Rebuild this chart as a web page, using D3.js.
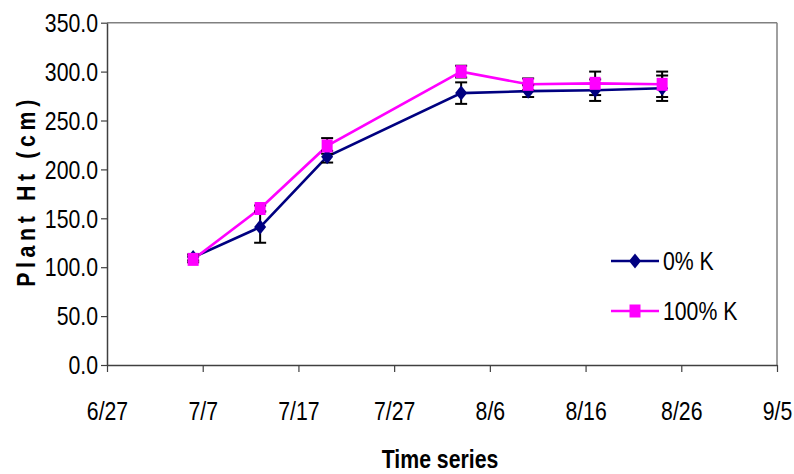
<!DOCTYPE html>
<html>
<head>
<meta charset="utf-8">
<script src="https://cdn.jsdelivr.net/npm/d3@7"></script>
<style>
  html, body { margin: 0; padding: 0; background: #fff; }
  svg { display: block; }
  text { font-family: "Liberation Sans", Arial, sans-serif; }
</style>
</head>
<body>
<svg id="chart" width="794" height="474"></svg>
<script>
// ---- data ----
const xTickLabels = ["6/27", "7/7", "7/17", "7/27", "8/6", "8/16", "8/26", "9/5"];
const yTickValues = [0, 50, 100, 150, 200, 250, 300, 350];
const sampleDates = ["7/6", "7/13", "7/20", "8/3", "8/10", "8/17", "8/24"];
const k0Values   = [110, 141, 213, 278, 280, 281, 283];
const k0Errors   = [3, 16, 6, 11, 6, 11, 13];
const k100Values = [108, 160, 224, 300, 287, 288, 287];
const k100Errors = [3, 3, 8, 6, 6, 12, 13];
const seriesNames = ["0% K", "100% K"];

const parseMD = s => { const [m, d] = s.split("/").map(Number); return new Date(2007, m - 1, d); };

const svg = d3.select("#chart");
const plotL = 107, plotR = 777, plotT = 22.7, plotB = 365;
const SX = 0.85; // horizontal condensing to mimic a narrow typeface

const x = d3.scaleTime()
  .domain([parseMD(xTickLabels[0]), parseMD(xTickLabels[xTickLabels.length - 1])])
  .range([plotL, plotR]);
const y = d3.scaleLinear().domain([0, 350]).range([plotB, plotT]);

// plot frame (top and right in gray)
svg.append("line").attr("x1", plotL).attr("x2", plotR).attr("y1", plotT).attr("y2", plotT)
  .attr("stroke", "#808080").attr("stroke-width", 1.5);
svg.append("line").attr("x1", plotR).attr("x2", plotR).attr("y1", plotT).attr("y2", plotB)
  .attr("stroke", "#808080").attr("stroke-width", 1.5);

// y axis
const yAxis = d3.axisLeft(y).tickValues(yTickValues).tickFormat(d3.format(".1f")).tickSize(6).tickSizeOuter(0);
const gy = svg.append("g").attr("transform", `translate(${plotL},0)`).call(yAxis);
gy.attr("font-family", null);
gy.select(".domain").attr("stroke", "#404040").attr("stroke-width", 1.5);
gy.selectAll(".tick line").attr("stroke", "#404040").attr("stroke-width", 1.2);
gy.selectAll(".tick text").attr("font-size", 25).attr("fill", "#000")
  .attr("transform", `scale(${SX},1)`).attr("x", -9 / SX).attr("dy", "0.35em");

// x axis
const xAxis = d3.axisBottom(x).tickValues(xTickLabels.map(parseMD))
  .tickFormat((d, i) => xTickLabels[i]).tickSize(7).tickSizeOuter(0);
const gx = svg.append("g").attr("transform", `translate(0,${plotB})`).call(xAxis);
gx.attr("font-family", null);
gx.select(".domain").attr("stroke", "#404040").attr("stroke-width", 1.5);
gx.selectAll(".tick line").attr("stroke", "#404040").attr("stroke-width", 1.2);
gx.selectAll(".tick text").attr("font-size", 25).attr("fill", "#000")
  .attr("transform", `scale(${SX},1)`).attr("y", 46).attr("dy", "0.35em");

// axis titles
svg.append("text")
  .attr("transform", `translate(440,468) scale(${SX},1)`)
  .attr("text-anchor", "middle").attr("font-weight", "bold").attr("font-size", 25)
  .text("Time series");
svg.append("text")
  .attr("transform", `translate(35,191) rotate(-90) scale(${SX},1)`)
  .attr("text-anchor", "middle").attr("font-weight", "bold").attr("font-size", 25)
  .attr("letter-spacing", 5.5)
  .text("Plant Ht (cm)");

const series = [
  { name: seriesNames[0], values: k0Values, errors: k0Errors, color: "#000080", marker: "diamond" },
  { name: seriesNames[1], values: k100Values, errors: k100Errors, color: "#FF00FF", marker: "square" }
];
series.forEach(s => {
  s.points = sampleDates.map((d, i) => ({ date: parseMD(d), v: s.values[i], e: s.errors[i] }));
});

const line = d3.line().x(d => x(d.date)).y(d => y(d.v));

function drawMarker(g, type, color) {
  if (type === "diamond") {
    g.append("path").attr("d", "M0,-7.5 L6,0 L0,7.5 L-6,0 Z").attr("fill", color);
  } else {
    g.append("rect").attr("x", -5.5).attr("y", -6.5).attr("width", 11).attr("height", 13).attr("fill", color);
  }
}

// lines
series.forEach(s => {
  svg.append("path").datum(s.points).attr("d", line)
    .attr("fill", "none").attr("stroke", s.color).attr("stroke-width", 2.6);
});

// error bars
series.forEach(s => {
  const g = svg.append("g");
  s.points.forEach(p => {
    const cx = x(p.date);
    const eb = g.append("g").attr("stroke", "#000").attr("stroke-width", 2);
    eb.append("line").attr("x1", cx).attr("x2", cx).attr("y1", y(p.v - p.e)).attr("y2", y(p.v + p.e));
    eb.append("line").attr("x1", cx - 6).attr("x2", cx + 6).attr("y1", y(p.v - p.e)).attr("y2", y(p.v - p.e));
    eb.append("line").attr("x1", cx - 6).attr("x2", cx + 6).attr("y1", y(p.v + p.e)).attr("y2", y(p.v + p.e));
  });
});
// markers
series.forEach(s => {
  s.points.forEach(p => {
    const m = svg.append("g").attr("transform", `translate(${x(p.date)},${y(p.v)})`);
    drawMarker(m, s.marker, s.color);
  });
});

// legend
const legendY = [261, 311];
series.forEach((s, i) => {
  const ly = legendY[i];
  svg.append("line").attr("x1", 611).attr("x2", 659).attr("y1", ly).attr("y2", ly)
    .attr("stroke", s.color).attr("stroke-width", 2.6);
  const m = svg.append("g").attr("transform", `translate(635,${ly})`);
  drawMarker(m, s.marker, s.color);
  svg.append("text").attr("transform", `translate(663,${ly}) scale(${SX},1)`).attr("dy", "0.35em")
    .attr("font-size", 25).text(s.name);
});
</script>
</body>
</html>
